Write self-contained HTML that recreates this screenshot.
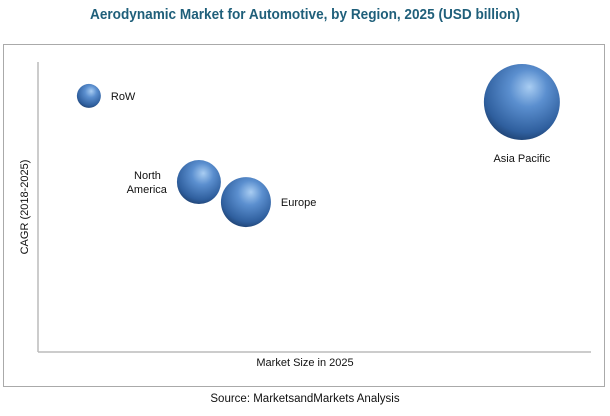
<!DOCTYPE html>
<html><head><meta charset="utf-8"><style>
body{margin:0;background:#fff;width:610px;height:411px;overflow:hidden;font-family:"Liberation Sans",sans-serif}
</style></head><body>
<svg id="chart" width="610" height="411">
<defs>
<radialGradient id="g" cx="0.55" cy="0.35" r="0.7" fx="0.6" fy="0.3">
<stop offset="0" stop-color="#a9cdf2"/>
<stop offset="0.35" stop-color="#5b8fcf"/>
<stop offset="0.8" stop-color="#2f5f9e"/>
<stop offset="1" stop-color="#1c3d6b"/>
</radialGradient>
</defs>
<text x="305" y="19" text-anchor="middle" font-size="15" font-weight="bold" fill="#1f5f7a" textLength="430" lengthAdjust="spacingAndGlyphs">Aerodynamic Market for Automotive, by Region, 2025 (USD billion)</text>
<rect x="3.5" y="44.5" width="601" height="342" fill="none" stroke="#aaa" stroke-width="1"/>
<line x1="38" y1="62" x2="38" y2="352" stroke="#bbb" stroke-width="1.5"/>
<line x1="38" y1="352" x2="591" y2="352" stroke="#bbb" stroke-width="1.5"/>
<text x="305" y="366" text-anchor="middle" font-size="11" fill="#111">Market Size in 2025</text>
<text transform="translate(28,207) rotate(-90)" text-anchor="middle" font-size="11" fill="#111">CAGR (2018-2025)</text>
<text x="305" y="402" text-anchor="middle" font-size="11.5" fill="#111">Source: MarketsandMarkets Analysis</text>
<g id="marks"></g>
</svg>
<script>
const regions=["RoW","North America","Europe","Asia Pacific"];
const xValues=[9.2,29.1,37.6,87.5];
const yValues=[88.3,58.6,51.7,86.2];
const sizes=[1.44,4.84,6.25,14.44];
const xs=v=>38+v/100*553, ys=v=>352-v/100*290, rs=v=>10*Math.sqrt(v);
const labelPos=[[1,0,"start"],[-1,0,"end"],[1,0,"start"],[0,1,"middle"]];
const ns="http://www.w3.org/2000/svg", g=document.getElementById("marks");
regions.forEach((name,i)=>{
  const cx=xs(xValues[i]),cy=ys(yValues[i]),r=rs(sizes[i]);
  const c=document.createElementNS(ns,"circle");
  c.setAttribute("cx",cx);c.setAttribute("cy",cy);c.setAttribute("r",r);c.setAttribute("fill","url(#g)");
  
  
  g.appendChild(c);
  const [dx,dy,anc]=labelPos[i];
  const lines=name==="North America"?["North","America"]:[name];
  const t=document.createElementNS(ns,"text");
  let tx=cx+dx*(r+10), ty=cy+4+dy*(r+18);
  if(lines.length>1) ty=cy-3;
  t.setAttribute("x",tx);t.setAttribute("text-anchor",anc);t.setAttribute("font-size","11");t.setAttribute("fill","#111");
  lines.forEach((l,k)=>{const s=document.createElementNS(ns,"tspan");s.setAttribute("x",lines.length>1?tx-(k?0:6):tx);s.setAttribute("y",ty+k*14);s.textContent=l;t.appendChild(s);});
  
  
  g.appendChild(t);
});
</script>
</body></html>
